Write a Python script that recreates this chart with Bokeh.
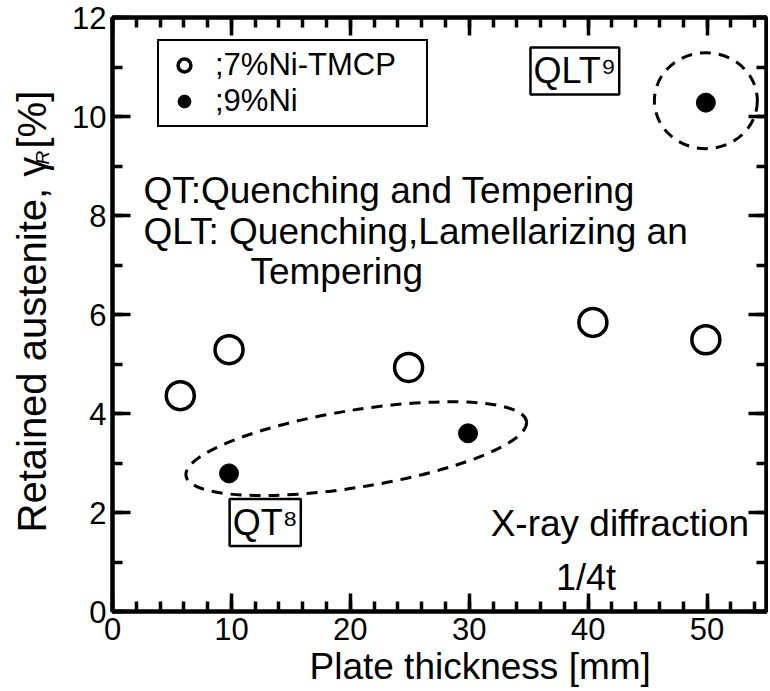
from bokeh.plotting import figure
from bokeh.models import (LinearAxis, SingleIntervalTicker, Label, Legend,
                          LegendItem, Range1d, Title)
from bokeh.layouts import row
from bokeh.embed import file_html
from bokeh.resources import INLINE
import math

# ---------------- data ----------------
tmcp_thickness = [5.7, 9.8, 24.9, 40.4, 49.9]      # 7%Ni-TMCP
tmcp_gamma = [4.36, 5.29, 4.93, 5.84, 5.49]

ni9_thickness = [9.8, 29.9, 49.9]                   # 9%Ni
ni9_gamma = [2.79, 3.60, 10.28]

x_ticks_major = 10
y_ticks_major = 2
legend_labels = [";7%Ni-TMCP", ";9%Ni"]
x_label = "Plate thickness [mm]"
y_label_parts = ["Retained austenite, \u03b3", "R", " [%]"]

# group outlines (QT group and QLT group)
qt_group = dict(x=20.5, y=3.29, w=29.0, h=1.56, angle=0.159)
qlt_group = dict(x=49.9, y=10.32, w=8.66, h=1.94, angle=0.0)

FONT = "Liberation Sans"
H = 690
TOP, BOTTOM = 17, 79          # borders above / below the plot frame
FRAME_H = H - TOP - BOTTOM    # 594

# ---------- left strip holding the rotated y-axis title ----------
# (its frame is aligned with the main frame by the row layout; its y range
#  is in page pixels counted from the bottom of the page)
ylab = figure(frame_width=56, frame_height=FRAME_H,
              x_range=Range1d(0, 56), y_range=Range1d(BOTTOM, H - TOP),
              output_backend="svg", toolbar_location=None,
              min_border_left=0, min_border_right=0,
              min_border_top=TOP, min_border_bottom=BOTTOM,
              x_axis_location=None, y_axis_location=None)
ylab.grid.visible = False
ylab.outline_line_color = None
ylab.border_fill_color = "white"
ylab.background_fill_color = "white"


def ytitle(x, y_from_top, s, size, **kw):
    ylab.add_layout(Label(x=x, y=H - y_from_top, text=s, text_font=FONT,
                          text_font_size=size, text_color="black",
                          text_baseline="middle", text_align="left",
                          angle=math.pi / 2, **kw))


ytitle(31.0, 532, y_label_parts[0], "40px")
ytitle(41.5, 164, y_label_parts[1], "19px", text_font_style="italic")
ytitle(31.0, 148, y_label_parts[2], "40px")

# ---------------- main plot ----------------
p = figure(frame_width=654, frame_height=FRAME_H,
           x_range=Range1d(0, 55), y_range=Range1d(0, 12),
           output_backend="svg", toolbar_location=None,
           min_border_left=56, min_border_right=2,
           min_border_top=TOP, min_border_bottom=BOTTOM,
           x_axis_location=None, y_axis_location=None)
p.grid.visible = False
p.outline_line_color = "black"
p.outline_line_width = 4
p.background_fill_color = "white"
p.border_fill_color = "white"


def style_axis(ax, show_labels, ticks):
    ax.axis_line_width = 4
    ax.axis_line_color = "black"
    ax.major_tick_in = 18
    ax.major_tick_out = 0
    ax.minor_tick_in = 10
    ax.minor_tick_out = 0
    ax.major_tick_line_width = 3.5
    ax.minor_tick_line_width = 3.5
    ax.major_tick_line_color = "black"
    ax.minor_tick_line_color = "black"
    ax.major_label_text_font = FONT
    ax.major_label_text_color = "black"
    ax.major_label_text_font_size = "31px"
    if show_labels:
        ax.major_label_standoff = 6
    else:
        ax.major_label_standoff = 0
        ax.major_label_overrides = {t: "" for t in ticks}


xt = SingleIntervalTicker(interval=x_ticks_major, num_minor_ticks=5)
yt = SingleIntervalTicker(interval=y_ticks_major, num_minor_ticks=2)
x_major = list(range(0, 56, x_ticks_major))
y_major = list(range(0, 13, y_ticks_major))

ax_b = LinearAxis(ticker=xt)
ax_t = LinearAxis(ticker=xt)
ax_l = LinearAxis(ticker=yt)
ax_r = LinearAxis(ticker=yt)
style_axis(ax_b, True, x_major)
style_axis(ax_l, True, y_major)
style_axis(ax_t, False, x_major)
style_axis(ax_r, False, y_major)
p.add_layout(ax_b, "below")
p.add_layout(ax_l, "left")
p.add_layout(ax_t, "above")
p.add_layout(ax_r, "right")

p.add_layout(Title(text=x_label, align="left", offset=197, text_font=FONT,
                   text_font_size="37px", text_font_style="normal",
                   text_color="black", standoff=2), "below")

# group outlines
for g in (qt_group, qlt_group):
    p.ellipse(x=[g["x"]], y=[g["y"]], width=[g["w"]], height=[g["h"]],
              angle=g["angle"], fill_color=None, line_color="black",
              line_width=3, line_dash="11 8")

r_open = p.scatter(tmcp_thickness, tmcp_gamma, marker="circle", size=28,
                   fill_color=None, line_color="black", line_width=3.5)
r_fill = p.scatter(ni9_thickness, ni9_gamma, marker="circle", size=19,
                   fill_color="black", line_color="black", line_width=1)

legend = Legend(items=[LegendItem(label=legend_labels[0], renderers=[r_open]),
                       LegendItem(label=legend_labels[1], renderers=[r_fill])],
                location=(45, 484))
legend.border_line_color = "black"
legend.border_line_alpha = 1.0
legend.border_line_width = 2.5
legend.background_fill_alpha = 1.0
legend.label_text_font = FONT
legend.label_text_font_size = "31px"
legend.label_text_color = "black"
legend.glyph_width = 38
legend.glyph_height = 32
legend.label_standoff = 12
legend.label_width = 205
legend.padding = 6
legend.spacing = 0
legend.margin = 0
p.add_layout(legend, "center")


def txt(x, y, s, size="37px", **kw):
    lab = Label(x=x, y=y, text=s, text_font=FONT, text_font_size=size,
                text_color="black", text_baseline="middle", text_align="left",
                **kw)
    p.add_layout(lab)
    return lab


txt(2.6, 8.50, "QT:Quenching and Tempering")
txt(2.6, 7.68, "QLT: Quenching,Lamellarizing an")
txt(11.6, 6.87, "Tempering")
txt(31.8, 1.78, "X-ray diffraction")
txt(37.3, 0.69, "1/4t", size="36px")

txt(9.85, 1.80, "QT\u2078", size="36px", border_line_color="black",
    border_line_width=2.5, background_fill_color="white", padding=3)
txt(35.15, 10.92, "QLT\u2079", size="36px", border_line_color="black",
    border_line_width=2.5, background_fill_color="white", padding=3)

layout = row(ylab, p)
open("out.html", "w").write(file_html(layout, INLINE))
